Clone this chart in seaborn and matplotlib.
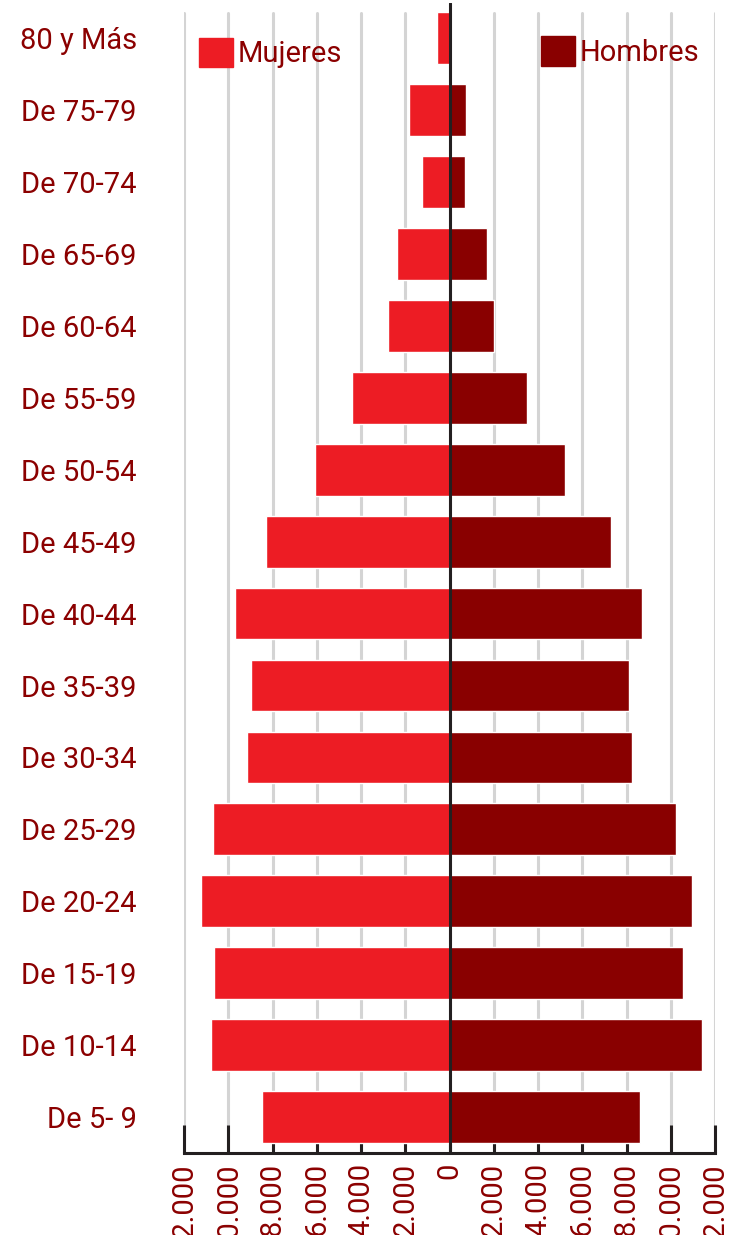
import numpy as np
import pandas as pd
import matplotlib
matplotlib.use('Agg')
import matplotlib.pyplot as plt
import seaborn as sns
from matplotlib.patches import Patch
from matplotlib.ticker import FuncFormatter

# age groups, top to bottom
grupos = ['80 y Más', 'De 75-79', 'De 70-74', 'De 65-69', 'De 60-64', 'De 55-59',
          'De 50-54', 'De 45-49', 'De 40-44', 'De 35-39', 'De 30-34', 'De 25-29',
          'De 20-24', 'De 15-19', 'De 10-14', 'De 5- 9']
mujeres = [550, 1830, 1250, 2370, 2780, 4410, 6090, 8300, 9700, 8980, 9160, 10700,
           11240, 10650, 10790, 8480]
hombres = [0, 750, 700, 1700, 2010, 3500, 5220, 7310, 8710, 8120, 8260, 10250,
           10970, 10560, 11430, 8620]
x_ticks = [-12000, -10000, -8000, -6000, -4000, -2000, 0, 2000, 4000, 6000, 8000, 10000, 12000]

c_muj = '#ed1c24'
c_hom = '#890000'
c_txt = '#8b0000'
c_dark = '#231f20'

sns.set_style('white')
plt.rcParams['font.family'] = ['Roboto', 'DejaVu Sans']

df = pd.DataFrame({'grupo': grupos, 'Mujeres': [-v for v in mujeres], 'Hombres': hombres})

fig, ax = plt.subplots(figsize=(7.33, 12.35), dpi=100)
fig.subplots_adjust(left=184 / 733, right=715 / 733, top=1 - 3 / 1235, bottom=1 - 1153 / 1235)

# background grid
for t in x_ticks:
    ax.axvline(t, ymin=0, ymax=0.991, color='#d4d4d4', lw=2.2, zorder=0)

sns.barplot(data=df, x='Mujeres', y='grupo', orient='h', color=c_muj, width=0.72,
            saturation=1, ax=ax, zorder=2)
sns.barplot(data=df, x='Hombres', y='grupo', orient='h', color=c_hom, width=0.72,
            saturation=1, ax=ax, zorder=2)

ax.axvline(0, color=c_dark, lw=2.2, zorder=3)

ax.set_xlim(-12000, 12000)
ax.set_ylim(15.5, -0.49)
ax.set_xticks(x_ticks)
ax.xaxis.set_major_formatter(FuncFormatter(lambda v, p: f'{abs(int(v)):,}'.replace(',', '.')))
ax.tick_params(axis='x', direction='in', length=20, width=2.2, color=c_dark,
               labelsize=21, labelcolor=c_txt, labelrotation=90, pad=7, bottom=True)
ax.tick_params(axis='y', length=0, labelsize=21, labelcolor=c_txt, pad=34)
for lab in ax.get_xticklabels():
    lab.set_va('top')

ax.set_xlabel('')
ax.set_ylabel('')
for s in ['left', 'right', 'top']:
    ax.spines[s].set_visible(False)
ax.spines['bottom'].set_color(c_dark)
ax.spines['bottom'].set_linewidth(2.2)
ax.spines['bottom'].set_capstyle('projecting')

leg_kw = dict(frameon=False, fontsize=21, handlelength=1.17, handleheight=1.17,
              handletextpad=0.15, labelcolor=c_txt, borderaxespad=0, borderpad=0)
leg1 = ax.legend(handles=[Patch(color=c_muj, label='Mujeres')], loc='upper left',
                 bbox_to_anchor=(0.028, 0.970), **leg_kw)
ax.add_artist(leg1)
ax.legend(handles=[Patch(color=c_hom, label='Hombres')], loc='upper right',
          bbox_to_anchor=(0.970, 0.971), **leg_kw)

plt.savefig('out.png', dpi=100)
